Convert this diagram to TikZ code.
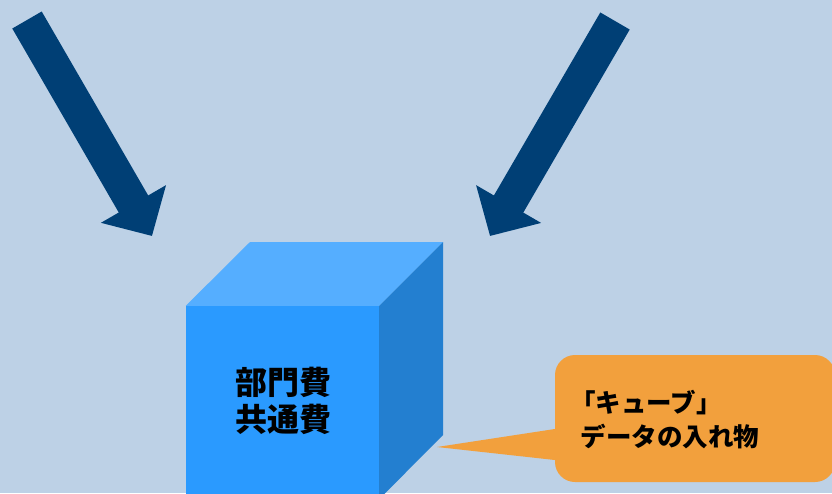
\documentclass[tikz,border=0pt]{standalone}
\usepackage{fontspec}
\newfontfamily\jpfont{Noto Sans CJK JP}
\usetikzlibrary{arrows.meta,positioning}

\definecolor{bgblue}{RGB}{189,209,230}
\definecolor{arrowblue}{RGB}{0,63,117}
\definecolor{cubefront}{RGB}{42,154,255}
\definecolor{cubetop}{RGB}{85,174,255}
\definecolor{cuberight}{RGB}{35,127,208}
\definecolor{calloutorange}{RGB}{242,160,61}

\tikzset{
	bigarrow/.style={draw=arrowblue, line width=34pt, -{Triangle[width=73pt,length=37pt]}},
	face/.style={inner sep=0pt, minimum size=193pt},
	jptext/.style={font=\jpfont\bfseries, text=black}
}

\begin{document}
\begin{tikzpicture}[x=1pt,y=-1pt]
					\useasboundingbox[fill=bgblue] (0,0) rectangle (832,493);

					% cube
					\node[face, fill=cubefront] (front) at (282.5,402.5) {};
					\fill[cubetop] (front.north west) -- (250,242) -- (443,242) -- (front.north east) -- cycle;
					\fill[cuberight] (front.north east) -- (443,242) -- (443,435) -- (front.south east) -- cycle;
					\node[jptext, align=center, font=\jpfont\bfseries\fontsize{32}{37}\selectfont] (name) at (283,401) {部門費\\共通費};

					% arrows
					\coordinate (ltail) at (27,20);
					\coordinate (lhead) at (152,236);
					\coordinate (rtail) at (615,21);
					\coordinate (rhead) at (490,236);
					\draw[bigarrow] (ltail) -- (lhead);
					\draw[bigarrow] (rtail) -- (rhead);

					% callout
					\node[fill=calloutorange, rounded corners=20pt, minimum width=280pt, minimum height=127pt] (callout) at (695,418.5) {};
					\coordinate (tip) at (437,447);
					\fill[calloutorange] (callout.west |- 0,429) -- (tip) -- (callout.west |- 0,460) -- cycle;
					\node[jptext, align=left, anchor=west, font=\jpfont\bfseries\fontsize{25.5}{34}\selectfont] (label) at (577,420) {\hspace{-0.4em}「キューブ」\\データの入れ物};
				\end{tikzpicture}
\end{document}
